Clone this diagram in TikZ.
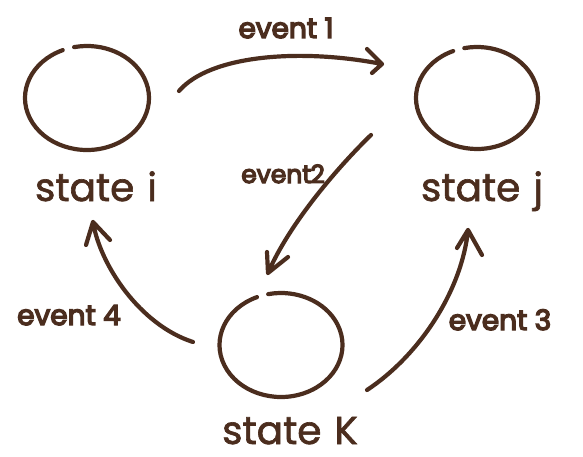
\documentclass[tikz,border=0pt]{standalone}
\usepackage{fontspec}
\setmainfont{Poppins}
\newfontfamily\statefont{Poppins}[FakeBold=1.6]
\newfontfamily\eventfont{Poppins}[FakeBold=5]
\usetikzlibrary{shapes.geometric}
\definecolor{ink}{HTML}{4B2D1E}
\begin{document}
\begin{tikzpicture}[x=1pt,y=-1pt,
  stroke/.style={draw=ink,line width=4.2pt,line cap=round,line join=round},
  ring/.style={ellipse,inner sep=0pt},
  statelbl/.style={text=ink,font=\statefont\fontsize{39}{39}\selectfont,anchor=base,inner sep=0pt},
  eventlbl/.style={text=ink,font=\eventfont\fontsize{28}{28}\selectfont,anchor=base,inner sep=0pt}]
\useasboundingbox (0,0) rectangle (583,457);
% state circles (invisible anchors) and hand-drawn open rings
\node[ring,minimum width=124pt,minimum height=104pt] (si) at (87,98) {};
\node[ring,minimum width=122pt,minimum height=102pt] (sj) at (477,98) {};
\node[ring,minimum width=123pt,minimum height=104pt] (sk) at (281,345) {};
\draw[stroke] (si.center) ++(113:62pt and 52pt) arc[start angle=113,end angle=462,x radius=62pt,y radius=52pt];
\draw[stroke] (sj.center) ++(113:61pt and 51pt) arc[start angle=113,end angle=462,x radius=61pt,y radius=51pt];
\draw[stroke] (sk.center) ++(113:61.5pt and 52pt) arc[start angle=113,end angle=462,x radius=61.5pt,y radius=52pt];
% labels
\node[statelbl] (li) at (96,201) {state\hspace{13pt}i};
\node[statelbl] (lj) at (482,201) {state\hspace{13pt}j};
\node[statelbl] (lk) at (290,444) {state\hspace{13pt}K};
\node[eventlbl] (e1) at (286,38) {event 1};
\node[eventlbl,font=\eventfont\fontsize{25}{25}\selectfont] (e2) at (283,183) {event\hspace{-1pt}2};
\node[eventlbl] (e4) at (69,325) {event 4};
\node[eventlbl] (e3) at (500,330) {event 3};
% connector end points
\coordinate (a1) at (179,91);  \coordinate (t1) at (382,64);
\coordinate (a2) at (371,135); \coordinate (t2) at (268,273);
\coordinate (a4) at (193,342); \coordinate (t4) at (93,222);
\coordinate (a3) at (367,390); \coordinate (t3) at (468,230);
% connectors
\draw[stroke] (a1) .. controls (210,55) and (300,48) .. (t1) -- ++(-15,-15) (t1) -- ++(-10,9);
\draw[stroke] (a2) .. controls (340,165) and (290,222) .. (t2) -- ++(-1,-21) (t2) -- ++(20,-16);
\draw[stroke] (a4) .. controls (140,325) and (100,265) .. (t4) -- ++(-7,23) (t4) -- ++(17,18);
\draw[stroke] (a3) .. controls (420,355) and (462,290) .. (t3) -- ++(-11,18) (t3) -- ++(14,25);
\end{tikzpicture}
\end{document}
